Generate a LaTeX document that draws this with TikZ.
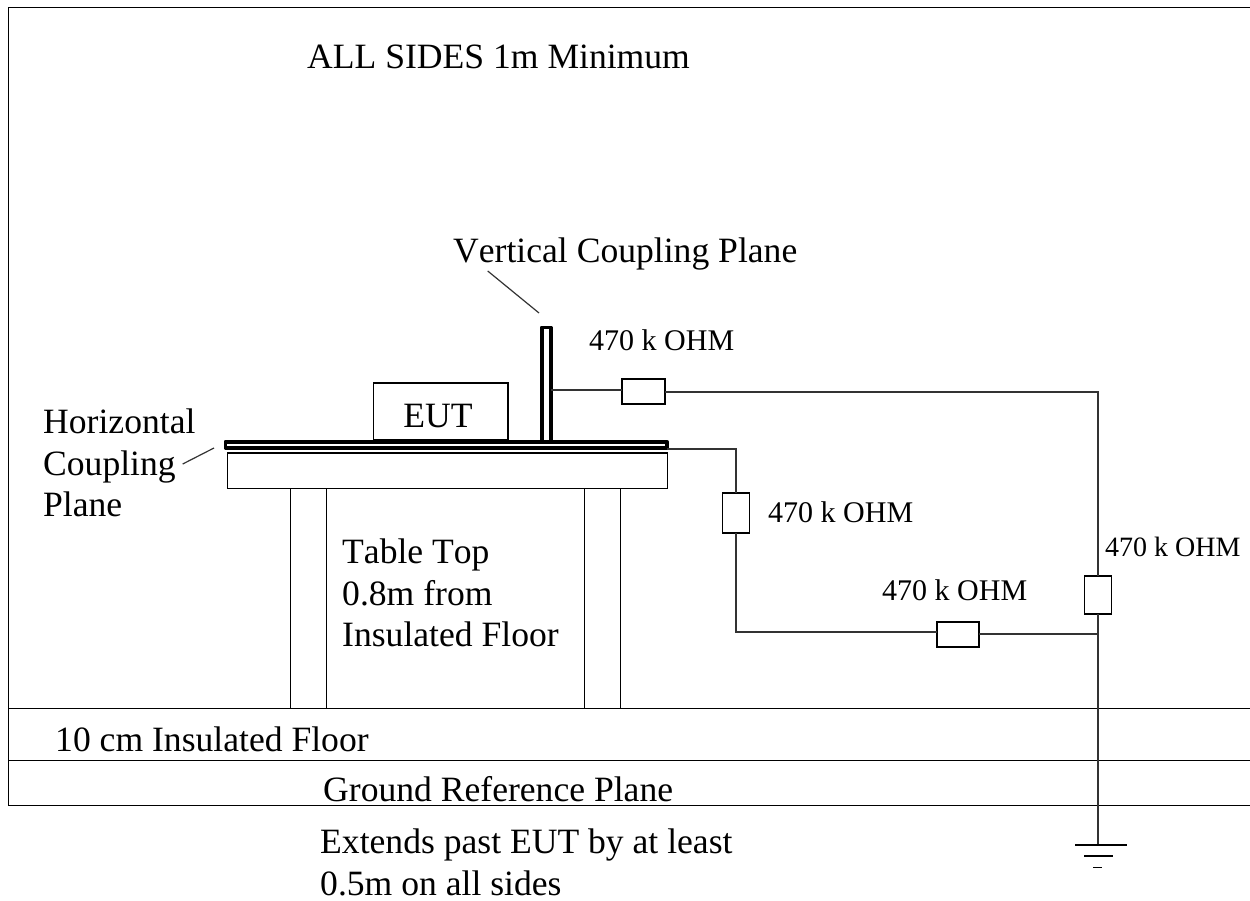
\documentclass[tikz,border=0pt]{standalone}
\usepackage{fontspec}
\setmainfont[Kerning=Off]{Liberation Serif}
\usetikzlibrary{calc}
\tikzset{
  frame/.style={draw=black,line width=1.2pt,outer sep=0pt,inner sep=0pt},
  wire/.style={draw=black!80,line width=1.2pt},
  res/.style={draw=black,fill=white,line width=1.2pt,minimum width=#1,inner sep=0pt,outer sep=0pt},
  res/.default=43pt,
  plane/.style={draw=black,line width=3.8pt,line join=round,outer sep=0pt,inner sep=0pt},
  big/.style={font=\fontsize{35.6}{40}\selectfont,anchor=base west,inner sep=0pt,align=left},
  small/.style={font=\fontsize{30}{34}\selectfont,anchor=base west,inner sep=0pt},
  smaller/.style={font=\fontsize{28}{32}\selectfont,anchor=base west,inner sep=0pt}
}
\begin{document}
\begin{tikzpicture}[x=1pt,y=-1pt]
\useasboundingbox (0,0) rectangle (1250,901);
% frame and floor
\coordinate (fTL) at (8.5,7.5); \coordinate (fTR) at (1250,7.5);
\coordinate (fBL) at (8.5,805.5); \coordinate (fBR) at (1250,805.5);
\draw[frame] (fTR) -- (fTL) -- (fBL) -- (fBR);
\coordinate (a1) at (8.5,708.5); \coordinate (a2) at (1250,708.5);
\coordinate (b1) at (8.5,760.5); \coordinate (b2) at (1250,760.5);
\draw[frame] (a1) -- (a2);
\draw[frame] (b1) -- (b2);
% table
\node[frame,minimum width=36pt,minimum height=220pt,anchor=north west] (leg1) at (290.5,488.5) {};
\node[frame,minimum width=36pt,minimum height=220pt,anchor=north west] (leg2) at (584.5,488.5) {};
\node[frame,minimum width=440pt,minimum height=35.5pt,anchor=north west] (top) at (227.5,453) {};
% EUT
\node[frame,minimum width=134.5pt,minimum height=57pt,anchor=north west] (eut) at (373.5,383) {};
\node[big,anchor=base] at (438,427) {EUT};
% planes
\node[plane,minimum width=441.5pt,minimum height=6pt,anchor=north west] (hp) at (225.5,441.8) {};
\node[plane,minimum width=9pt,minimum height=114pt,anchor=north west] (vp) at (541.8,327.5) {};
% resistors
\node[res=43pt,minimum height=25pt] (r1) at (643.5,391.5) {};
\node[res=27pt,minimum height=40pt] (r2) at (736,513) {};
\node[res=42pt,minimum height=25pt] (r3) at (958,634.5) {};
\node[res=27.5pt,minimum height=38pt] (r4) at (1098,595) {};
% wiring
\coordinate (j1) at (1098,392);
\coordinate (j2) at (736,449);
\coordinate (j3) at (736,632);
\coordinate (j4) at (1098,634);
\coordinate (g) at (1098,845);
\draw[wire] (vp.east |- 0,390) -- (r1.west |- 0,390);
\draw[wire] (r1.east |- j1) -- (j1) -- (r4.north);
\draw[wire] (hp.east |- j2) -- (j2) -- (r2.north);
\draw[wire] (r2.south) -- (j3) -- (r3.west |- j3);
\draw[wire] (r3.east |- j4) -- (j4);
\draw[wire] (r4.south) -- (g);
% ground
\coordinate (g1) at (1075,845); \coordinate (g2) at (1127,845);
\coordinate (g3) at (1084,856); \coordinate (g4) at (1113,856);
\coordinate (g5) at (1093,867.5); \coordinate (g6) at (1102,867.5);
\draw[frame] (g1) -- (g2);
\draw[frame] (g3) -- (g4);
\draw[frame] (g5) -- (g6);
% leaders
\coordinate (l1) at (487.7,271); \coordinate (l2) at (539,313);
\coordinate (l3) at (182.7,464); \coordinate (l4) at (214,448);
\draw[wire] (l1) -- (l2);
\draw[wire] (l3) -- (l4);
% text
\node[big] at (307,68.3) {ALL SIDES 1m Minimum};
\node[big] at (453,262.7) {Vertical Coupling Plane};
\node[big] at (43,433.5) {Horizontal};
\node[big] at (43,475) {Coupling};
\node[big] at (43,516) {Plane};
\node[big] at (342,563.5) {Table Top};
\node[big] at (342,605) {0.8m from};
\node[big] at (342,646) {Insulated Floor};
\node[big] at (55,751.5) {10 cm Insulated Floor};
\node[big] at (323,801.5) {Ground Reference Plane};
\node[big] at (320,853) {Extends past EUT by at least};
\node[big] at (320,895) {0.5m on all sides};
\node[small] at (589,350) {470 k OHM};
\node[small] at (768,522) {470 k OHM};
\node[small] at (882,600) {470 k OHM};
\node[smaller] at (1105,556.7) {470 k OHM};
\end{tikzpicture}
\end{document}
